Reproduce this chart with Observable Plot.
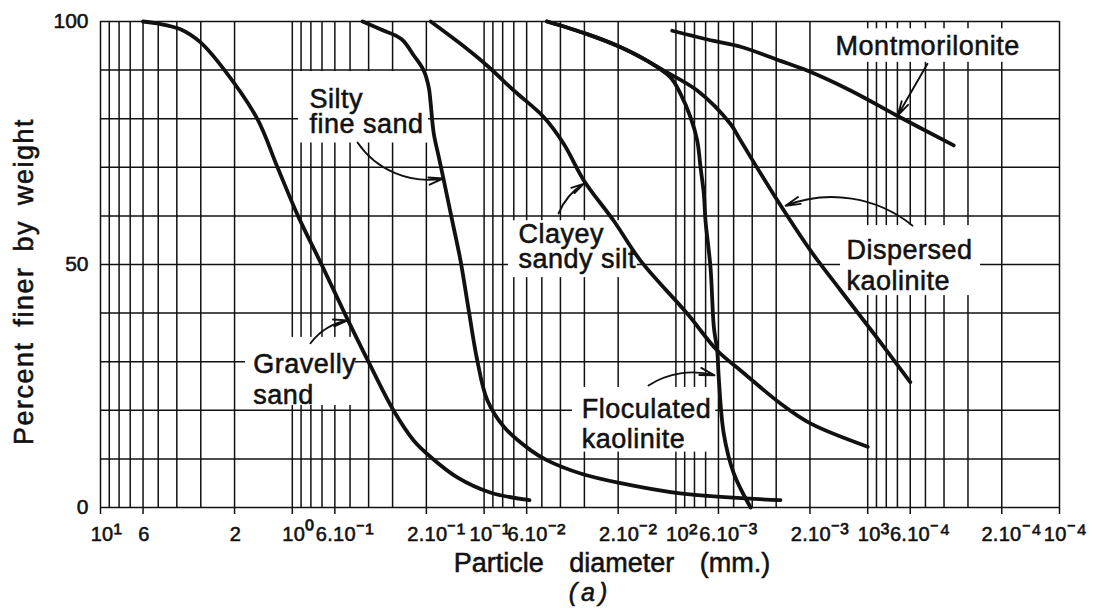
<!DOCTYPE html>
<html>
<head>
<meta charset="utf-8">
<script src="https://cdn.jsdelivr.net/npm/d3@7"></script>
<script src="https://cdn.jsdelivr.net/npm/@observablehq/plot@0.6"></script>
<style>
  html, body { margin: 0; padding: 0; background: #fff; }
  #chart svg { display: block; }
  #chart svg text { stroke: #111; stroke-width: 0.55px; paint-order: stroke; }
</style>
</head>
<body>
<div id="chart"></div>
<script>
// Grain-size distribution curves: percent finer by weight against particle
// diameter (mm), log scale running from coarse (left) to fine (right).

const gravellySandDiameter = [6.0, 5.06, 3.83, 3.01, 2.257, 1.524, 1.195, 0.934, 0.704, 0.534, 0.401, 0.297, 0.233, 0.190, 0.138, 0.093, 0.058];
const gravellySandFiner    = [100, 99.6, 98.4, 95.7, 90.0, 80.0, 70.0, 60.0, 50.0, 40.0, 30.0, 20.0, 13.8, 10.4, 6.2, 3.1, 1.5];

const siltyFineSandDiameter = [0.43, 0.347, 0.270, 0.2325, 0.2063, 0.1942, 0.1904, 0.1829, 0.1722, 0.1622, 0.1466, 0.1327, 0.1202, 0.1086, 0.0963, 0.0789, 0.0573, 0.0469, 0.0314, 0.0194, 0.0095, 0.00285];
const siltyFineSandFiner    = [100, 98.4, 96.4, 93.0, 89.9, 86.4, 83.6, 76.9, 72.1, 67.3, 59.0, 50.8, 40.5, 30.3, 22.1, 16.6, 11.8, 9.7, 7.0, 5.0, 2.9, 1.5];

const clayeySandySiltDiameter = [0.19, 0.1327, 0.0963, 0.070, 0.0488, 0.0384, 0.0302, 0.0211, 0.0153, 0.00873, 0.00609, 0.0046, 0.00285, 0.00199, 0.001];
const clayeySandySiltFiner    = [100, 95.4, 90.9, 85.8, 80.3, 74.8, 67.3, 59.0, 50.8, 39.9, 32.3, 28.2, 21.4, 17.3, 12.5];

const dispersedKaoliniteDiameter = [0.047, 0.029, 0.0194, 0.0141, 0.01156, 0.00774, 0.00519, 0.0046, 0.00296, 0.00199, 0.001386, 0.00093, 0.0006];
const dispersedKaoliniteFiner    = [100, 97.4, 94.7, 91.9, 89.9, 85.8, 78.9, 75.5, 63.2, 52.9, 44.7, 35.8, 25.8];

const floculatedKaoliniteDiameter = [0.047, 0.029, 0.0194, 0.0141, 0.01067, 0.00946, 0.00839, 0.00774, 0.00744, 0.00715, 0.00701, 0.0066, 0.00634, 0.00609, 0.00598, 0.00563, 0.00499, 0.00408];
const floculatedKaoliniteFiner    = [100, 97.4, 94.7, 91.9, 88.5, 85.1, 80.3, 75.5, 70.0, 64.5, 59.0, 49.4, 37.1, 32.3, 26.8, 15.2, 7.0, 0];

const montmorilloniteDiameter = [0.01045, 0.00634, 0.0046, 0.00285, 0.00207, 0.00123, 0.000702, 0.000356];
const montmorilloniteFiner    = [98.1, 96.0, 94.8, 91.9, 89.9, 85.8, 80.6, 74.5];

// Labelled diameters along the bottom axis
const tickValues = [10, 6, 2, 1, 0.6, 0.2, 0.1, 0.06, 0.02, 0.01, 0.006, 0.002, 0.001, 0.0006, 0.0002, 0.0001];
const tickLabels = ["10¹", "6", "2", "10⁰", "6.10⁻¹", "2.10⁻¹", "10⁻¹", "6.10⁻²", "2.10⁻²", "10²", "6.10⁻³", "2.10⁻³", "10³", "6.10⁻⁴", "2.10⁻⁴", "10⁻⁴"];
const yTickValues = [0, 50, 100];

// Curve names, placed in data units (left edge, vertical middle of the text block)
const labelText = ["Silty\nfine sand", "Clayey\nsandy silt", "Gravelly\nsand", "Floculated\nkaolinite", "Dispersed\nkaolinite", "Montmorilonite"];
const labelDiameter = [0.813, 0.0662, 1.6, 0.031, 0.00129, 0.00147];
const labelFiner = [81.3, 53.5, 26.5, 17.3, 50.0, 95.1];

// Blank panels behind each label (the grid is interrupted there)
const panelFrom = [0.928, 0.0746, 1.754, 0.0346, 0.001386, 0.00156];
const panelTo   = [0.195, 0.0159, 0.468, 0.0062, 0.000258, 0.000142];
const panelLow  = [75.0, 47.3, 21.0, 11.4, 43.6, 91.6];
const panelHigh = [89.7, 59.0, 35.0, 24.7, 58.0, 98.5];

// Leader arrows from each label to its curve
const leaderFromD = [0.457, 0.0409, 0.804, 0.0139, 0.000584, 0.000488];
const leaderFromP = [75.1, 60.5, 33.8, 25.1, 58.0, 91.3];
const leaderToD   = [0.1628, 0.0303, 0.5155, 0.00629, 0.00268, 0.000699];
const leaderToP   = [67.7, 66.6, 38.5, 27.2, 62.1, 80.6];
const leaderBend  = [-33, 18, 21, 24, -30, 0];

const series = [
  ["Gravelly sand", gravellySandDiameter, gravellySandFiner],
  ["Silty fine sand", siltyFineSandDiameter, siltyFineSandFiner],
  ["Clayey sandy silt", clayeySandySiltDiameter, clayeySandySiltFiner],
  ["Dispersed kaolinite", dispersedKaoliniteDiameter, dispersedKaoliniteFiner],
  ["Floculated kaolinite", floculatedKaoliniteDiameter, floculatedKaoliniteFiner],
  ["Montmorilonite", montmorilloniteDiameter, montmorilloniteFiner]
];
const curveRows = series.flatMap(([name, ds, ps]) => ds.map((d, i) => ({name, d, p: ps[i]})));
const labelRows = labelText.map((t, i) => ({t, d: labelDiameter[i], p: labelFiner[i]}));
const panelRows = panelFrom.map((x1, i) => ({x1, x2: panelTo[i], y1: panelLow[i], y2: panelHigh[i]}));
const leaderRows = leaderFromD.map((x1, i) => ({x1, y1: leaderFromP[i], x2: leaderToD[i], y2: leaderToP[i], bend: leaderBend[i]}));
const tickRows = tickValues.map((v, i) => ({v, label: tickLabels[i]}));
const supChars = /[⁰¹²³⁴⁵⁶⁷⁸⁹⁻]+/;
const plainTickRows = tickRows.filter(r => !supChars.test(r.label));
const mantissaTickRows = tickRows.filter(r => supChars.test(r.label) && r.label.includes("."));
const powerTickRows = tickRows.filter(r => supChars.test(r.label) && !r.label.includes("."));

// The two upper-left labels are set with tighter leading than the others
const tightLabels = new Set(["Silty\nfine sand", "Clayey\nsandy silt"]);

const ink = "#111";
const font = "'Liberation Sans', Arial, sans-serif";
const tickText = (rows, dx) => Plot.text(rows, {
  x: "v", text: "label", frameAnchor: "bottom", lineAnchor: "top", textAnchor: "middle",
  dx, dy: 19, fontSize: 20, fill: ink, ariaDescription: "x-ticks"
});
const curveLabels = (rows, lineHeight) => Plot.text(rows, {
  x: "d", y: "p", text: "t", textAnchor: "start", lineAnchor: "middle", lineHeight,
  fontSize: 27, fill: ink, ariaDescription: "curve-labels"
});

const chart = Plot.plot({
  width: 1097,
  height: 608,
  marginLeft: 100,
  marginRight: 38,
  marginTop: 21,
  marginBottom: 101,
  style: {fontFamily: font, background: "#fff", color: ink},
  x: {type: "log", domain: [10, 0.0001], label: null},
  y: {domain: [0, 100], label: null},
  marks: [
    Plot.gridX({stroke: ink, strokeOpacity: 1, strokeWidth: 1.5}),
    Plot.gridY({ticks: 10, stroke: ink, strokeOpacity: 1, strokeWidth: 1.5}),
    Plot.rect(panelRows, {x1: "x1", x2: "x2", y1: "y1", y2: "y2", fill: "#fff"}),
    Plot.line(curveRows, {x: "d", y: "p", z: "name", stroke: ink, strokeWidth: 3.8, curve: "catmull-rom"}),
    ...leaderRows.map(r => Plot.arrow([r], {
      x1: "x1", y1: "y1", x2: "x2", y2: "y2", bend: r.bend,
      stroke: ink, strokeWidth: 1.9, headLength: 12, headAngle: 28
    })),
    curveLabels(labelRows.filter(r => tightLabels.has(r.t)), 0.93),
    curveLabels(labelRows.filter(r => !tightLabels.has(r.t)), 1.13),
    Plot.axisX({ticks: tickValues, tickSize: 7, fill: "none", stroke: ink, strokeWidth: 1.5, label: null}),
    tickText(powerTickRows, 6),
    tickText(mantissaTickRows, 10),
    tickText(plainTickRows, 1),
    Plot.axisY({ticks: yTickValues, tickSize: 0, tickPadding: 12, fontSize: 21, fill: ink, label: null}),
    Plot.text(["Percent finer by weight"], {
      frameAnchor: "left", rotate: -90, dx: -76, dy: 17, textAnchor: "middle", lineAnchor: "middle",
      fontSize: 27, fill: ink, ariaDescription: "y-title"
    }),
    Plot.text(["Particle diameter (mm.)"], {
      frameAnchor: "bottom", textAnchor: "middle", lineAnchor: "middle", dx: 32, dy: 56,
      fontSize: 27, fill: ink, ariaDescription: "x-title"
    }),
    Plot.text(["(a)"], {
      frameAnchor: "bottom", textAnchor: "middle", lineAnchor: "middle", dx: 10, dy: 85,
      fontSize: 25, fontStyle: "italic", fill: ink, ariaDescription: "panel-tag"
    })
  ]
});

const svg = d3.select(chart);
svg.selectAll("g[aria-description='curve-labels'] text").style("letter-spacing", "0.5px");
svg.selectAll("g[aria-description='y-title'] text").style("letter-spacing", "1.5px").style("word-spacing", "6px");
svg.selectAll("g[aria-description='x-title'] text").style("word-spacing", "18px");
svg.selectAll("g[aria-description='panel-tag'] text").style("letter-spacing", "4px");
svg.selectAll("g[aria-description='x-ticks'] text").style("letter-spacing", "0.3px");

// Enlarge the exponent part of each power-of-ten tick label
svg.selectAll("g[aria-description='x-ticks'] text").each(function () {
  const s = this.textContent;
  const m = s.match(supChars);
  if (!m) return;
  const node = d3.select(this);
  node.text(null);
  node.append("tspan").text(s.slice(0, m.index));
  node.append("tspan").style("font-size", "128%").text(m[0]);
});

document.getElementById("chart").append(chart);
</script>
</body>
</html>
